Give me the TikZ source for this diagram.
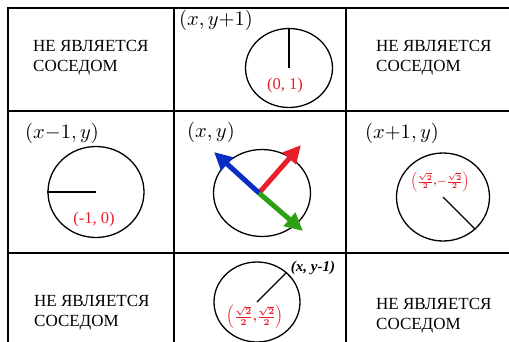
\documentclass[tikz,border=0pt]{standalone}
\usepackage[no-math]{fontspec}
\setmainfont{Liberation Serif}
\usetikzlibrary{shapes.geometric,arrows.meta}
\definecolor{vred}{RGB}{232,30,40}
\definecolor{vblue}{RGB}{10,45,195}
\definecolor{vgreen}{RGB}{45,160,20}
\tikzset{
  cell/.style={align=left, anchor=west, inner sep=0pt, font=\fontsize{17}{20}\selectfont},
  ring/.style={draw, ellipse, line width=1.3pt, inner sep=0pt},
  hdr/.style={inner sep=0pt, scale=2.05},
  val/.style={text=vred, font=\fontsize{16.5}{18}\selectfont, inner sep=0pt},
  fracval/.style={text=vred, font=\boldmath, inner sep=0pt, scale=1.3},
  vec/.style={line width=5pt, -{Triangle[length=18pt,width=17pt]}}
}
\begin{document}
\begin{tikzpicture}[x=1pt, y=-1pt]
\useasboundingbox (0,0) rectangle (509,341);
\clip (0,0) rectangle (509,341);
% grid
\draw[line width=1.6pt] (8,350) -- (8,8) -- (520,8);
\draw[line width=1.6pt] (8,111) -- (520,111) (8,253) -- (520,253);
\draw[line width=1.6pt] (174,8) -- (174,350) (346,8) -- (346,350);
% not neighbours
\node[cell] (nw) at (33,57.5) {НЕ ЯВЛЯЕТСЯ\\СОСЕДОМ};
\node[cell] (ne) at (376,57.5) {НЕ ЯВЛЯЕТСЯ\\СОСЕДОМ};
\node[cell] (sw) at (34,313) {НЕ ЯВЛЯЕТСЯ\\СОСЕДОМ};
\node[cell] (se) at (376,316) {НЕ ЯВЛЯЕТСЯ\\СОСЕДОМ};
% (x, y+1)
\node[hdr] (nlab) at (216,20) {$(x, y{+}1)$};
\node[ring, minimum width=87, minimum height=79] (n) at (289,68) {};
\draw[line width=1.3pt] (n.center) -- (n.north);
\node[val] (nval) at (285,86) {(0, 1)};
% (x-1, y)
\node[hdr] (wlab) at (62,133) {$(x{-}1, y)$};
\node[ring, minimum width=96, minimum height=91] (w) at (96,192) {};
\draw[line width=1.3pt] (w.center) -- (w.west);
\node[val] (wval) at (94,220) {(-1, 0)};
% (x, y)
\node[hdr] (clab) at (211,132) {$(x, y)$};
\node[ring, minimum width=97, minimum height=87] (c) at (262,193) {};
\coordinate (o) at (259,193);
\coordinate (tr) at (301,145);
\coordinate (tl) at (214,152);
\coordinate (br) at (303,231);
\draw[vec, vred] (o) -- (tr);
\draw[vec, vgreen] (o) -- (br);
\draw[vec, vblue] (o) -- (tl);
% (x+1, y)
\node[hdr] (elab) at (402,133) {$(x{+}1, y)$};
\node[ring, minimum width=93, minimum height=88] (e) at (443,197) {};
\draw[line width=1.3pt] (e.center) -- (e.-45);
\node[fracval, scale=0.85] (eval) at (440,182) {$\left(\frac{\sqrt{2}}{2}{,}{-}\frac{\sqrt{2}}{2}\right)$};
% (x, y-1)
\node[ring, minimum width=86, minimum height=80] (s) at (257,302) {};
\draw[line width=1.3pt] (s.center) -- (s.45);
\node[font=\fontsize{15}{17}\selectfont\bfseries\itshape, inner sep=0pt] (slab) at (313,268) {(x, y-1)};
\node[fracval] (sval) at (255,317) {$\left(\frac{\sqrt{2}}{2}{,}\frac{\sqrt{2}}{2}\right)$};
\end{tikzpicture}
\end{document}
